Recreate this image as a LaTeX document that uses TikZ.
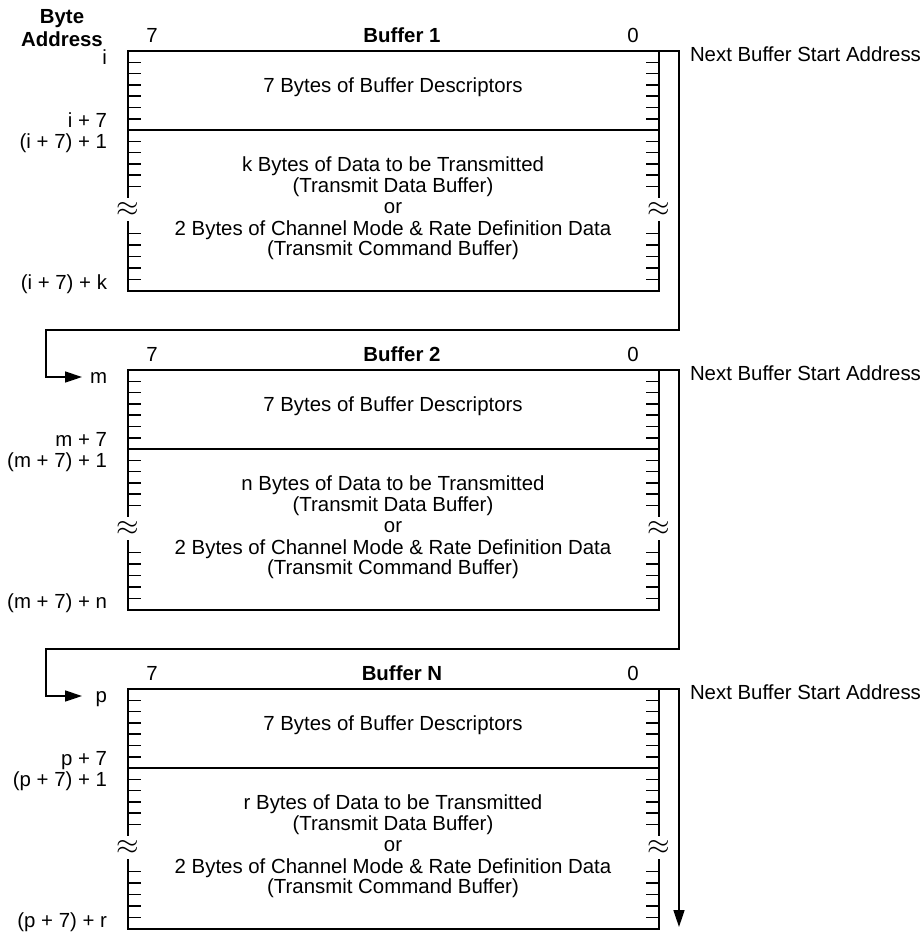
\documentclass[tikz,border=0pt]{standalone}
\usepackage{fontspec}
\setmainfont{Liberation Sans}
\usetikzlibrary{arrows.meta}
\tikzset{
  boxline/.style={line width=0.95pt, line cap=rect},
  tickline/.style={line width=0.8pt},
  txt/.style={inner sep=0pt, outer sep=0pt, font=\fontsize{10.2}{10.4}\selectfont},
  boldtxt/.style={inner sep=0pt, outer sep=0pt, font=\fontsize{10.2}{10.4}\selectfont\bfseries},
  addr/.style={txt, anchor=base east},
  linkline/.style={line width=0.8pt},
  linkarrow/.style={linkline, -{Triangle[length=8.5pt,width=5.5pt]}},
  breakmark/.style={inner sep=0pt, outer sep=0pt},
}
\newcommand\bufferblock[8]{%
  \draw[boxline] (128,{#1+146}) -- (128,#1) -- (659,#1) -- (659,{#1+146});
  \draw[boxline] (128,{#1+171}) -- (128,{#1+240}) -- (659,{#1+240}) -- (659,{#1+171});
  \draw[boxline] (128,{#1+79}) -- (659,{#1+79});
  \foreach \k in {1,...,6} {
    \draw[tickline] (128,{#1+11.3*\k}) -- ++(13,0);
    \draw[tickline] (659,{#1+11.3*\k}) -- ++(-13,0);
  }
  \foreach \k in {1,...,5} {
    \draw[tickline] (128,{#1+79+11.3*\k}) -- ++(13,0);
    \draw[tickline] (659,{#1+79+11.3*\k}) -- ++(-13,0);
    \draw[tickline] (128,{#1+240-11.5*\k}) -- ++(13,0);
    \draw[tickline] (659,{#1+240-11.5*\k}) -- ++(-13,0);
  }
  \node[breakmark] (brL#2) at (128,{#1+158}) {\scalebox{1.45}{$\approx$}};
  \node[breakmark] (brR#2) at (659,{#1+158}) {\scalebox{1.45}{$\approx$}};
  \node[txt, anchor=base] (seven#2) at (152,{#1-9}) {7};
  \node[boldtxt, anchor=base] (title#2) at (402,{#1-9}) {#3};
  \node[txt, anchor=base] (zero#2) at (633,{#1-9}) {0};
  \node[txt, anchor=base west] (next#2) at (690,{#1+10}) {Next Buffer Start Address};
  \node[addr] (a#2a) at (107,{#1+13}) {#4};
  \node[addr] (a#2b) at (107,{#1+76}) {#5};
  \node[addr] (a#2c) at (107,{#1+97}) {#6};
  \node[addr] (a#2d) at (107,{#1+238}) {#7};
  \node[txt, anchor=base] (desc#2) at (393,{#1+41}) {7 Bytes of Buffer Descriptors};
  \node[txt, anchor=base] (d#2a) at (393,{#1+120}) {#8 Bytes of Data to be Transmitted};
  \node[txt, anchor=base] (d#2b) at (393,{#1+141}) {(Transmit Data Buffer)};
  \node[txt, anchor=base] (d#2c) at (393,{#1+162}) {or};
  \node[txt, anchor=base] (d#2d) at (393,{#1+184}) {2 Bytes of Channel Mode \& Rate Definition Data};
  \node[txt, anchor=base] (d#2e) at (393,{#1+204}) {(Transmit Command Buffer)};
  \coordinate (out#2) at (659,#1);
}
\begin{document}
\begin{tikzpicture}[x=0.5pt, y=-0.5pt]
  \useasboundingbox (0,0) rectangle (923,934);
  \node[boldtxt, anchor=base] (byte) at (62,23.5) {Byte};
  \node[boldtxt, anchor=base] (address) at (62,46) {Address};
  \bufferblock{51}{1}{Buffer 1}{i}{i + 7}{(i + 7) + 1}{(i + 7) + k}{k}
  \bufferblock{370}{2}{Buffer 2}{m}{m + 7}{(m + 7) + 1}{(m + 7) + n}{n}
  \bufferblock{689}{3}{Buffer N}{p}{p + 7}{(p + 7) + 1}{(p + 7) + r}{r}
  \coordinate (in2) at (82,377);
  \coordinate (in3) at (82,696);
  \coordinate (end3) at (679,927);
  \draw[linkarrow] (out1) -- (679,51) -- (679,330) -- (46,330) |- (in2);
  \draw[linkarrow] (out2) -- (679,370) -- (679,649) -- (46,649) |- (in3);
  \draw[linkarrow] (out3) -- (679,689) -- (end3);
\end{tikzpicture}
\end{document}
